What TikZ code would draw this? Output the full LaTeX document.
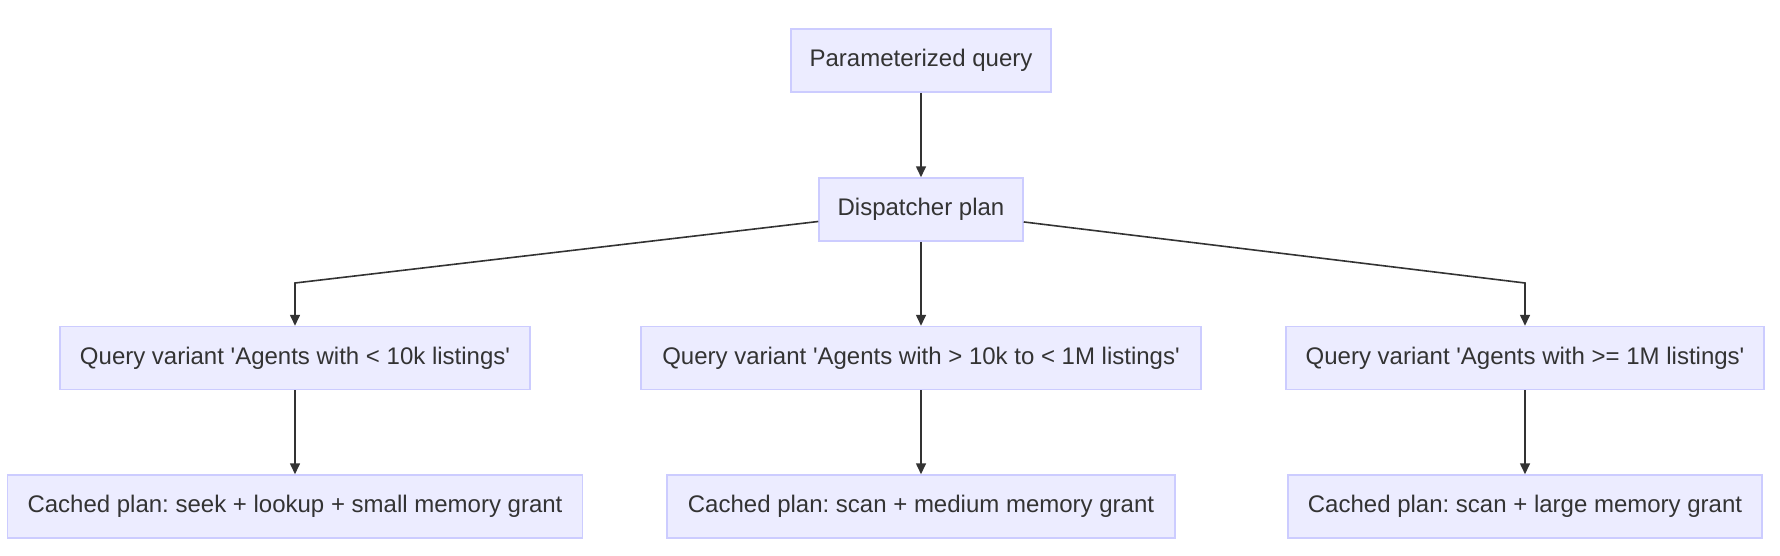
\documentclass[tikz,border=0pt]{standalone}
\usepackage{fontspec}
\setmainfont{Liberation Sans}
\usepackage{tikz}
\usetikzlibrary{arrows.meta}
\definecolor{boxfill}{HTML}{ECECFF}
\definecolor{boxline}{HTML}{CCCCFF}
\definecolor{ink}{HTML}{333333}
\newcommand{\sq}{\textquotesingle}
\frenchspacing
\tikzset{
  box/.style={draw=boxline, line width=1.5pt, fill=boxfill, text=ink,
    minimum height=63pt, inner sep=0pt,
    font=\fontsize{24}{28}\selectfont},
  arr/.style={draw=ink, line width=1.6pt, -{Triangle[length=11pt,width=10pt]}}
}
\begin{document}
\begin{tikzpicture}[x=1pt,y=-1pt]
\useasboundingbox (0,0) rectangle (1780,555);
\node[box, minimum width=260pt] (p) at (921,60.5) {Parameterized query};
\node[box, minimum width=204pt] (d) at (921,209.5) {Dispatcher plan};
\node[box, minimum width=470pt] (q1) at (295,358) {Query variant \sq Agents with < 10k listings\sq};
\node[box, minimum width=560pt] (q2) at (921,358) {Query variant \sq Agents with > 10k to < 1M listings\sq};
\node[box, minimum width=478pt] (q3) at (1525,358) {Query variant \sq Agents with >= 1M listings\sq};
\node[box, minimum width=575pt] (c1) at (295,506.5) {Cached plan: seek + lookup + small memory grant};
\node[box, minimum width=508pt] (c2) at (921,506.5) {Cached plan: scan + medium memory grant};
\node[box, minimum width=474pt] (c3) at (1525,506.5) {Cached plan: scan + large memory grant};
\coordinate (k1) at (295,283);
\coordinate (k3) at (1525,283);
\draw[arr] (p) -- (d);
\draw[arr] (d) -- (k1) -- (q1);
\draw[arr] (d) -- (q2);
\draw[arr] (d) -- (k3) -- (q3);
\draw[arr] (q1) -- (c1);
\draw[arr] (q2) -- (c2);
\draw[arr] (q3) -- (c3);
\end{tikzpicture}
\end{document}
